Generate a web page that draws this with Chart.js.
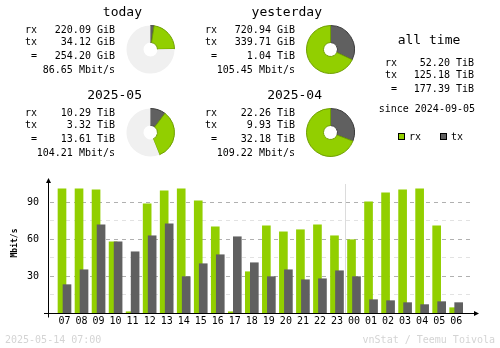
<!DOCTYPE html>
<html>
<head>
<meta charset="utf-8">
<script src="https://cdn.jsdelivr.net/npm/chart.js@4.4.1/dist/chart.umd.min.js"></script>
<style>
  body { margin: 0; background: #fff; }
  #wrap { position: relative; width: 500px; height: 348px; overflow: hidden; }
  canvas { position: absolute; }
</style>
</head>
<body>
<div id="wrap">
  <canvas id="hourly" width="500" height="348" style="left:0;top:0;width:500px;height:348px"></canvas>
  <canvas id="pieToday" width="49" height="49" style="left:126px;top:25px;width:49px;height:49px"></canvas>
  <canvas id="pieYesterday" width="49" height="49" style="left:306px;top:25px;width:49px;height:49px"></canvas>
  <canvas id="pieMonth" width="49" height="49" style="left:126px;top:108px;width:49px;height:49px"></canvas>
  <canvas id="piePrevMonth" width="49" height="49" style="left:306px;top:108px;width:49px;height:49px"></canvas>
</div>
<script>
// hourly rates, Mbit/s
const hours = ['07', '08', '09', '10', '11', '12', '13', '14', '15', '16', '17', '18',
               '19', '20', '21', '22', '23', '00', '01', '02', '03', '04', '05', '06'];
const rxMbit = [100.8, 100.8, 100.0, 57.8, 1.0, 88.6, 99.2, 100.8, 91.1, 70.0, 1.0, 33.5,
                70.8, 65.9, 67.6, 71.6, 62.7, 59.5, 90.3, 97.6, 100.0, 100.8, 70.8, 4.3];
const txMbit = [23.0, 35.1, 71.6, 57.8, 49.7, 62.7, 72.4, 29.5, 40.0, 47.3, 61.9, 40.8,
                29.5, 35.1, 27.0, 27.8, 34.3, 29.5, 10.8, 10.0, 8.4, 6.8, 9.2, 8.4];
const yGridValues = [15, 30, 45, 60, 75, 90];
const yTickLabels = [30, 60, 90];

// summary texts
const rowLabels = ['rx', 'tx', ' =', ''];
const todayText = ['220.09 GiB', '34.12 GiB', '254.20 GiB', '86.65 Mbit/s'];
const yesterdayText = ['720.94 GiB', '339.71 GiB', '1.04 TiB', '105.45 Mbit/s'];
const monthText = ['10.29 TiB', '3.32 TiB', '13.61 TiB', '104.21 Mbit/s'];
const prevMonthText = ['22.26 TiB', '9.93 TiB', '32.18 TiB', '109.22 Mbit/s'];
const allTimeText = ['52.20 TiB', '125.18 TiB', '177.39 TiB'];
const sinceText = 'since 2024-09-05';
const stampText = '2025-05-14 07:00';
const creditText = 'vnStat / Teemu Toivola';

// pies: [tx, rx]; the partial ones are percent of the full circle
const pieToday = [2.4, 22.2];
const pieYesterday = [339.71, 720.94];
const pieMonth = [10.3, 33.6];
const piePrevMonth = [9.93, 22.26];

const RX = '#92cf00', TX = '#606060';
const RX_EDGE = '#6f9f00', TX_EDGE = '#3c3c3c';
const MONO = '"DejaVu Sans Mono", monospace';

const UNIT = 17.03;           // px per hour on the x axis
const FIRST = 64.5;           // px centre of the first hour
const xMin = (50 - FIRST) / UNIT;
const xMax = (472 - FIRST) / UNIT;
const shift = 2.5 / UNIT;     // rx sits left, tx right (and on top)

function drawSummary(ctx, title, titleRight, left, right, top, values) {
    ctx.fillStyle = '#000';
    ctx.textBaseline = 'alphabetic';
    ctx.font = '13px ' + MONO;
    ctx.textAlign = 'right';
    ctx.fillText(title, titleRight, top);
    ctx.font = '10px ' + MONO;
    const offsets = [17, 29, 43, 57];
    values.forEach((v, i) => {
        ctx.textAlign = 'left';
        ctx.fillText(rowLabels[i], left, top + offsets[i]);
        ctx.textAlign = 'right';
        ctx.fillText(v, right, top + offsets[i]);
    });
}

const textPlugin = {
    id: 'vnstatText',
    afterDraw(chart) {
        const ctx = chart.ctx;
        ctx.save();
        drawSummary(ctx, 'today', 142, 25, 115, 16, todayText);
        drawSummary(ctx, 'yesterday', 322, 205, 295, 16, yesterdayText);
        drawSummary(ctx, '2025-05', 142, 25, 115, 99, monthText);
        drawSummary(ctx, '2025-04', 322, 205, 295, 99, prevMonthText);

        // all time block
        ctx.font = '13px ' + MONO;
        ctx.textAlign = 'center';
        ctx.fillText('all time', 429, 44);
        ctx.font = '10px ' + MONO;
        const rows = [66, 78, 92];
        allTimeText.forEach((v, i) => {
            ctx.textAlign = 'left';
            ctx.fillText(rowLabels[i], 385, rows[i]);
            ctx.textAlign = 'right';
            ctx.fillText(v, 474, rows[i]);
        });
        ctx.fillText(sinceText, 475, 112);

        // legend
        [[RX, 'rx', 398], [TX, 'tx', 440]].forEach(([c, t, x]) => {
            ctx.fillStyle = c;
            ctx.fillRect(x, 133, 7, 7);
            ctx.strokeStyle = '#000';
            ctx.lineWidth = 1;
            ctx.strokeRect(x + 0.5, 133.5, 6, 6);
            ctx.fillStyle = '#000';
            ctx.textAlign = 'left';
            ctx.fillText(t, x + 11, 140);
        });

        // axis title
        ctx.save();
        ctx.translate(15, 243);
        ctx.rotate(-Math.PI / 2);
        ctx.font = 'bold 8px ' + MONO;
        ctx.textAlign = 'center';
        ctx.textBaseline = 'middle';
        ctx.fillText('Mbit/s', 0, 0);
        ctx.restore();

        // footer
        ctx.fillStyle = '#d4d4d4';
        ctx.font = '10px ' + MONO;
        ctx.textAlign = 'left';
        ctx.fillText(stampText, 5, 343);
        ctx.textAlign = 'right';
        ctx.fillText(creditText, 495, 343);
        ctx.restore();
    }
};

const axesPlugin = {
    id: 'vnstatAxes',
    beforeDatasetsDraw(chart) {
        // day change marker
        const ctx = chart.ctx;
        const x = Math.floor(chart.scales.x.getPixelForValue(hours.indexOf('00') - 0.5)) + 0.5;
        ctx.save();
        ctx.strokeStyle = '#dcdcdc';
        ctx.lineWidth = 1;
        ctx.beginPath();
        ctx.moveTo(x, 184);
        ctx.lineTo(x, chart.chartArea.bottom);
        ctx.stroke();
        ctx.restore();
    },
    afterDatasetsDraw(chart) {
        const ctx = chart.ctx;
        const a = chart.chartArea;
        const y0 = Math.round(chart.scales.y.getPixelForValue(0)) + 0.5;
        const xAxis = a.left - 1.5;
        ctx.save();
        ctx.strokeStyle = '#000';
        ctx.fillStyle = '#000';
        ctx.lineWidth = 1;
        ctx.beginPath();
        ctx.moveTo(a.left - 6, y0);
        ctx.lineTo(477, y0);
        ctx.moveTo(xAxis, y0 + 4);
        ctx.lineTo(xAxis, a.top - 1);
        ctx.stroke();
        // arrows
        ctx.beginPath();
        ctx.moveTo(474, y0 - 2.5);
        ctx.lineTo(479, y0);
        ctx.lineTo(474, y0 + 2.5);
        ctx.closePath();
        ctx.fill();
        ctx.beginPath();
        ctx.moveTo(xAxis - 2.5, a.top + 3);
        ctx.lineTo(xAxis, a.top - 2);
        ctx.lineTo(xAxis + 2.5, a.top + 3);
        ctx.closePath();
        ctx.fill();
        ctx.restore();
    }
};

new Chart(document.getElementById('hourly'), {
    type: 'bar',
    data: {
        datasets: [
            {
                label: 'tx',
                data: txMbit.map((v, i) => ({ x: i, y: v })),
                backgroundColor: TX,
                xAxisID: 'xt',
                order: 0
            },
            {
                label: 'rx',
                data: rxMbit.map((v, i) => ({ x: i, y: v })),
                backgroundColor: RX,
                xAxisID: 'xr',
                order: 1
            }
        ]
    },
    options: {
        responsive: false,
        animation: false,
        devicePixelRatio: 1,
        layout: { padding: { top: 180, right: 28, left: 0, bottom: 0 } },
        datasets: { bar: { grouped: false, barThickness: 8, borderWidth: 0 } },
        plugins: { legend: { display: false }, tooltip: { enabled: false } },
        scales: {
            x: {
                type: 'linear',
                offset: false,
                min: xMin,
                max: xMax,
                afterBuildTicks: s => { s.ticks = hours.map((h, i) => ({ value: i })); },
                afterFit: s => { s.height = 35; },
                grid: { display: false, drawTicks: false },
                border: { display: false },
                ticks: {
                    autoSkip: false,
                    maxRotation: 0,
                    padding: 2,
                    color: '#000',
                    font: { family: MONO, size: 10 },
                    callback: (v, i) => hours[i]
                }
            },
            xr: { type: 'linear', offset: false, display: false, min: xMin + shift, max: xMax + shift },
            xt: { type: 'linear', offset: false, display: false, min: xMin - shift, max: xMax - shift },
            y: {
                min: 0,
                max: 108,
                afterBuildTicks: s => { s.ticks = yGridValues.map(v => ({ value: v })); },
                afterFit: s => { s.width = 50; },
                border: { display: false, dash: [4, 4] },
                grid: {
                    drawTicks: false,
                    color: c => yTickLabels.includes(c.tick.value) ? '#b0b0b0' : '#e2e2e2'
                },
                ticks: {
                    padding: 11,
                    color: '#000',
                    font: { family: MONO, size: 10 },
                    callback: v => yTickLabels.includes(v) ? String(v) : ''
                }
            }
        }
    },
    plugins: [axesPlugin, textPlugin]
});

// donuts: tx from 12 o'clock clockwise, then rx, rest in light gray
function drawPie(id, values, partial) {
    const data = values.slice();
    const colors = [TX, RX];
    const edges = [TX_EDGE, RX_EDGE];
    const widths = [1, 1];
    if (partial) {
        data.push(100 - values[0] - values[1]);
        colors.push('#f0f0f0');
        edges.push('#f0f0f0');
        widths.push(0);
    }
    new Chart(document.getElementById(id), {
        type: 'doughnut',
        data: {
            datasets: [{
                data: data,
                backgroundColor: colors,
                borderColor: edges,
                borderWidth: widths,
                hoverOffset: 0,
                offset: 0
            }]
        },
        options: {
            responsive: false,
            animation: false,
            devicePixelRatio: 1,
            cutout: 7,
            layout: { padding: 0 },
            plugins: { legend: { display: false }, tooltip: { enabled: false } }
        }
    });
}

drawPie('pieToday', pieToday, true);
drawPie('pieYesterday', pieYesterday, false);
drawPie('pieMonth', pieMonth, true);
drawPie('piePrevMonth', piePrevMonth, false);
</script>
</body>
</html>
